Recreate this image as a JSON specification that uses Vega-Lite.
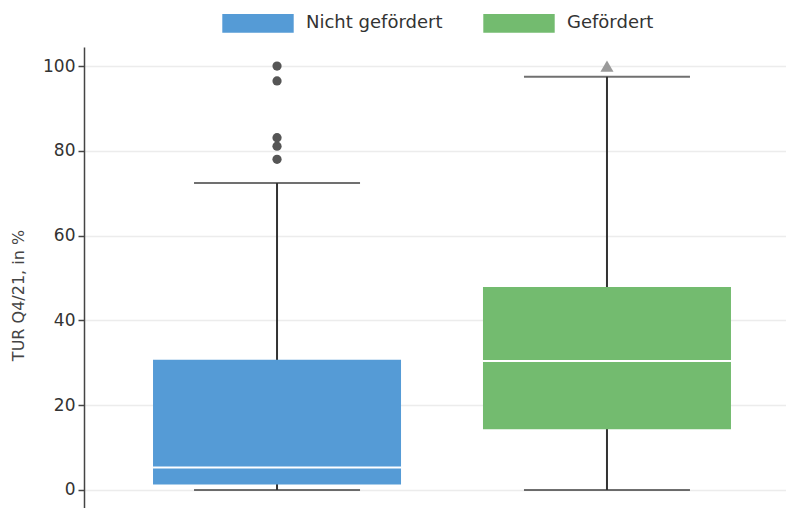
{
  "$schema": "https://vega.github.io/schema/vega-lite/v6.json",
  "autosize": {"type": "none"},
  "padding": {"left": 84, "top": 47, "right": 0, "bottom": 0},
  "width": 716,
  "height": 461,
  "background": "white",
  "config": {
    "font": "DejaVu Sans",
    "view": {"stroke": null},
    "axis": {"labelFont": "DejaVu Sans", "titleFont": "DejaVu Sans"},
    "legend": {"labelFont": "DejaVu Sans"}
  },
  "datasets": {
    "stats": [
      {"group": "Nicht gefördert", "lower": 0, "q1": 1.3, "median": 5.3, "q3": 30.7, "upper": 72.4},
      {"group": "Gefördert", "lower": 0, "q1": 14.3, "median": 30.4, "q3": 47.9, "upper": 97.5}
    ],
    "outliers": [
      {"group": "Nicht gefördert", "value": 100},
      {"group": "Nicht gefördert", "value": 96.5},
      {"group": "Nicht gefördert", "value": 83.1},
      {"group": "Nicht gefördert", "value": 81.1},
      {"group": "Nicht gefördert", "value": 78.0},
      {"group": "Gefördert", "value": 100}
    ]
  },
  "encoding": {
    "x": {
      "field": "group",
      "type": "nominal",
      "sort": ["Nicht gefördert", "Gefördert"],
      "scale": {"domain": ["Nicht gefördert", "Gefördert"], "paddingInner": 0, "paddingOuter": 0.085},
      "axis": null
    }
  },
  "layer": [
    {
      "data": {"name": "stats"},
      "mark": {"type": "rule", "color": "#333333", "strokeWidth": 2},
      "encoding": {
        "y": {
          "field": "lower",
          "type": "quantitative",
          "scale": {"domain": [-4.25, 104.5], "nice": false, "zero": false},
          "axis": {
            "title": "TUR Q4/21, in %",
            "titleFontSize": 16,
            "titleFontWeight": "normal",
            "titleColor": "#444444",
            "titleX": -58,
            "titleY": 248,
            "values": [0, 20, 40, 60, 80, 100],
            "labelFontSize": 17,
            "labelColor": "#333333",
            "labelPadding": 3,
            "tickSize": 6,
            "tickColor": "#444444",
            "tickWidth": 1.5,
            "domainColor": "#444444",
            "domainWidth": 1.5,
            "grid": true,
            "gridColor": "#ececec",
            "gridWidth": 1.5
          }
        },
        "y2": {"field": "upper"}
      }
    },
    {
      "data": {"name": "stats"},
      "mark": {"type": "tick", "color": "#333333", "size": 166, "thickness": 2, "orient": "horizontal"},
      "encoding": {"y": {"field": "lower", "type": "quantitative"}}
    },
    {
      "data": {"name": "stats"},
      "mark": {"type": "tick", "color": "#333333", "size": 166, "thickness": 2, "orient": "horizontal"},
      "encoding": {"y": {"field": "upper", "type": "quantitative"}}
    },
    {
      "data": {"name": "stats"},
      "mark": {"type": "bar", "width": 248, "opacity": 1},
      "encoding": {
        "y": {"field": "q1", "type": "quantitative"},
        "y2": {"field": "q3"},
        "color": {
          "field": "group",
          "type": "nominal",
          "scale": {"domain": ["Nicht gefördert", "Gefördert"], "range": ["#559bd6", "#73bb6f"]},
          "legend": {
            "title": null,
            "orient": "none",
            "direction": "horizontal",
            "legendX": 138,
            "legendY": -60,
            "padding": 0,
            "symbolType": "M-1,-0.26H1V0.26H-1Z",
            "symbolSize": 5100,
            "symbolStrokeWidth": 0,
            "symbolOpacity": 1,
            "labelFontSize": 18,
            "labelColor": "#333333",
            "labelOffset": 12,
            "columnPadding": 40
          }
        }
      }
    },
    {
      "data": {"name": "stats"},
      "mark": {"type": "tick", "color": "white", "size": 248, "thickness": 2, "orient": "horizontal", "opacity": 1},
      "encoding": {"y": {"field": "median", "type": "quantitative"}}
    },
    {
      "data": {"name": "outliers"},
      "transform": [{"filter": "datum.group === 'Nicht gefördert'"}],
      "mark": {"type": "point", "shape": "circle", "filled": true, "color": "#555555", "size": 85, "opacity": 1},
      "encoding": {"y": {"field": "value", "type": "quantitative"}}
    },
    {
      "data": {"name": "outliers"},
      "transform": [{"filter": "datum.group === 'Gefördert'"}],
      "mark": {"type": "point", "shape": "triangle-up", "filled": true, "color": "#9a9a9a", "size": 170, "opacity": 1},
      "encoding": {"y": {"field": "value", "type": "quantitative"}}
    }
  ]
}
